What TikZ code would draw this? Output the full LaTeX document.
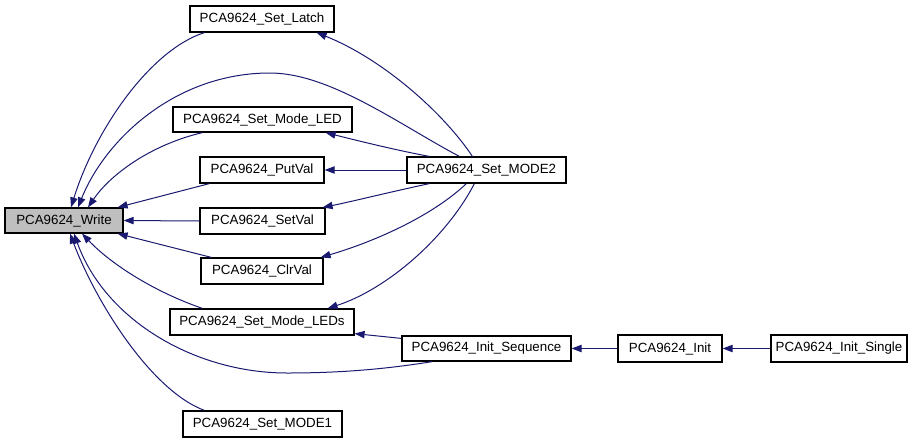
\documentclass[tikz,border=0pt]{standalone}
\usepackage{fontspec}
\setmainfont{Liberation Sans}
\usetikzlibrary{arrows.meta,calc}
\definecolor{edgeblue}{HTML}{191970}
\definecolor{hlgrey}{HTML}{BFBFBF}
\begin{document}
\begin{tikzpicture}[x=0.75pt,y=-0.75pt,
  box/.style={draw=black,line width=0.9pt,fill=white,inner sep=0pt,minimum height=19.5pt,font=\fontsize{10}{12}\selectfont},
  edge/.style={draw=edgeblue,line width=0.75pt,-{Triangle[length=7.5pt,width=5.5pt]},fill=none},
  ]
\useasboundingbox (0,0) rectangle (923,443);
\node[box,fill=hlgrey,minimum width=88.5pt,minimum height=18.75pt] (write) at (64,220.5) {PCA9624\_Write};
\node[box,minimum width=108pt] (latch) at (262,19) {PCA9624\_Set\_Latch};
\node[box,minimum width=134.25pt,minimum height=18.75pt] (led) at (262.5,119.5) {PCA9624\_Set\_Mode\_LED};
\node[box,minimum width=93pt] (putval) at (262,170) {PCA9624\_PutVal};
\node[box,minimum width=119.25pt] (mode2) at (486.5,170) {PCA9624\_Set\_MODE2};
\node[box,minimum width=93.75pt] (setval) at (262.5,221) {PCA9624\_SetVal};
\node[box,minimum width=91.5pt] (clrval) at (262,271) {PCA9624\_ClrVal};
\node[box,minimum width=138pt] (leds) at (262,322) {PCA9624\_Set\_Mode\_LEDs};
\node[box,minimum width=126.75pt,minimum height=18.75pt] (initseq) at (486.5,348.5) {PCA9624\_Init\_Sequence};
\node[box,minimum width=119.25pt] (mode1) at (262.5,424) {PCA9624\_Set\_MODE1};
\node[box,minimum width=78pt,minimum height=20.25pt] (init) at (670,348.5) {PCA9624\_Init};
\node[box,minimum width=102pt,minimum height=20.25pt] (single) at (839,348.5) {PCA9624\_Init\_Single};

% callers of Write
\draw[edge] ($(latch.south west)+(15,0)$) .. controls (150,50) and (95,130) .. ($(write.north)+(7,0)$);
\draw[edge] ($(mode2.north west)+(53,0)$) .. controls (400,125) and (330,73) .. (270,73) .. controls (175,73) and (105,140) .. ($(write.north)+(14,0)$);
\draw[edge] ($(led.south west)+(30,0)$) .. controls (150,145) and (110,175) .. ($(write.north)+(24,0)$);
\draw[edge] ($(putval.south west)+(10,0)$) -- ($(write.north east)+(-6,0)$);
\draw[edge] (setval.west) -- (write.east);
\draw[edge] ($(clrval.north west)+(11,0)$) -- ($(write.south east)+(-6,0)$);
\draw[edge] ($(leds.north west)+(33,0)$) .. controls (155,292) and (112,265) .. ($(write.south)+(18,0)$);
\draw[edge] ($(initseq.south west)+(31,0)$) .. controls (380,370) and (335,373) .. (287,373) .. controls (195,373) and (105,320) .. ($(write.south)+(10,0)$);
\draw[edge] ($(mode1.north west)+(22,0)$) .. controls (150,390) and (95,300) .. ($(write.south)+(6,0)$);

% callers of the middle column
\draw[edge] ($(mode2.north west)+(66,0)$) .. controls (445,115) and (385,60) .. ($(latch.south east)+(-18,0)$);
\draw[edge] ($(mode2.north west)+(23,0)$) .. controls (395,150) and (355,140) .. ($(led.south east)+(-27,0)$);
\draw[edge] (mode2.west) -- (putval.east);
\draw[edge] ($(mode2.south west)+(23,0)$) .. controls (390,192) and (350,202) .. ($(setval.north east)+(-3,0)$);
\draw[edge] ($(mode2.south west)+(60,0)$) .. controls (430,218) and (370,243) .. ($(clrval.north east)+(-3,0)$);
\draw[edge] ($(mode2.south west)+(68,0)$) .. controls (445,240) and (385,290) .. ($(leds.north east)+(-27,0)$);
\draw[edge] ($(initseq.north west)+(0,3)$) -- ($(leds.south east)+(0,-2)$);

% right chain
\draw[edge] (init.west) -- (initseq.east);
\draw[edge] (single.west) -- (init.east);
\end{tikzpicture}
\end{document}
